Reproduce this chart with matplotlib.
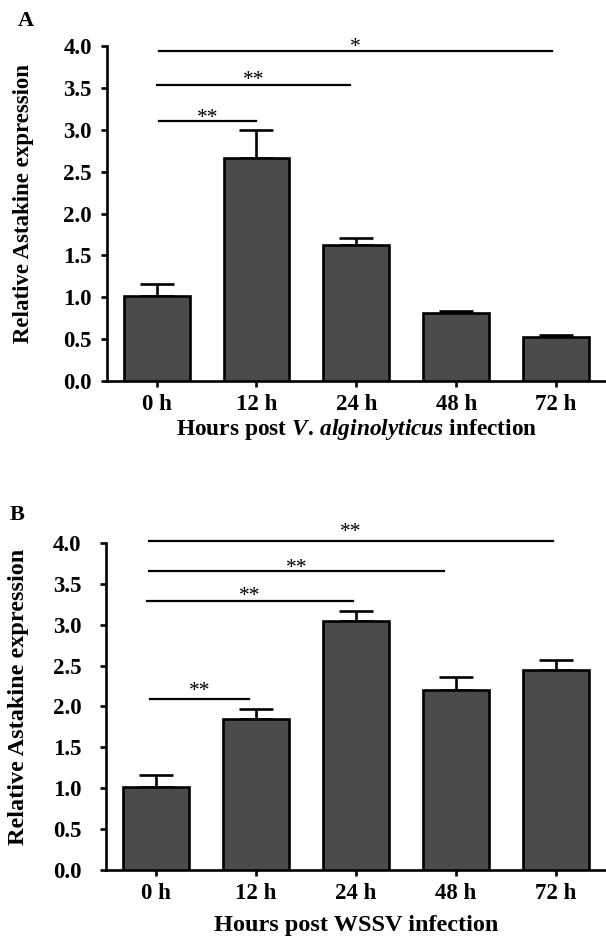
import matplotlib
matplotlib.use("Agg")
import matplotlib.pyplot as plt
import matplotlib.transforms as mtransforms
import numpy as np

plt.rcParams['font.family'] = ['Liberation Serif', 'DejaVu Serif']
plt.rcParams['mathtext.fontset'] = 'custom'
plt.rcParams['mathtext.rm'] = 'Liberation Serif:bold'
plt.rcParams['mathtext.bf'] = 'Liberation Serif:bold'
plt.rcParams['mathtext.it'] = 'Liberation Serif:italic:bold'
plt.rcParams['mathtext.bfit'] = 'Liberation Serif:italic:bold'

categories = ["0 h", "12 h", "24 h", "48 h", "72 h"]
yticks = [0.0, 0.5, 1.0, 1.5, 2.0, 2.5, 3.0, 3.5, 4.0]

A_means = [1.02, 2.66, 1.62, 0.81, 0.52]
A_err = [0.14, 0.34, 0.09, 0.02, 0.03]
A_sig_spans = [(0.02, 1.0), (0.0, 1.94), (0.02, 3.96)]
A_sig_y = [3.10, 3.54, 3.94]
A_sig_star_y = [3.21, 3.66, 4.05]
A_sig_text = ["**", "**", "*"]

B_means = [1.02, 1.85, 3.04, 2.20, 2.44]
B_err = [0.14, 0.12, 0.13, 0.16, 0.13]
B_sig_spans = [(-0.06, 0.93), (-0.09, 1.97), (-0.07, 2.88), (-0.07, 3.97)]
B_sig_y = [2.09, 3.29, 3.66, 4.03]
B_sig_star_y = [2.25, 3.42, 3.76, 4.20]
B_sig_text = ["**", "**", "**", "**"]

fig = plt.figure(figsize=(6.06, 9.41), dpi=100)

def panel(rect, means, err, spans, sig_y, star_y, sig_text, xlabel_parts,
          ytick_pad, ylabel_size, xlabel_size, ylab_x, xlab_y, letter, letter_xy):
    ax = fig.add_axes(rect)
    x = np.arange(len(categories))
    ax.errorbar(x, means, yerr=[np.zeros(len(err)), err], fmt='none',
                ecolor='black', elinewidth=1.9, capsize=12.5, capthick=1.9, zorder=2)
    ax.bar(x, means, width=0.66, color='#4b4b4b', edgecolor='black',
           linewidth=1.9, zorder=3)
    ax.set_xlim(-0.5, 4.5)
    ax.set_ylim(0, 4.0)
    ax.set_yticks(yticks)
    ax.set_yticklabels([f"{v:.1f}" for v in yticks])
    ax.set_xticks(x)
    ax.set_xticklabels(categories)
    for s in ['top', 'right']:
        ax.spines[s].set_visible(False)
    for s in ['left', 'bottom']:
        ax.spines[s].set_linewidth(1.9)
    ax.tick_params(axis='y', length=4.5, width=1.9, pad=ytick_pad, labelsize=16.5)
    ax.tick_params(axis='x', length=4.5, width=1.9, pad=5, labelsize=16.5)
    for lab in ax.get_xticklabels() + ax.get_yticklabels():
        lab.set_fontweight('bold')
    ax.set_ylabel("Relative Astakine expression", fontsize=ylabel_size, fontweight='bold')
    ax.yaxis.set_label_coords(ylab_x, 0.53)
    ax.yaxis.label.set_va('center')
    ax.set_xlabel(xlabel_parts, fontsize=xlabel_size, fontweight='bold')
    ax.xaxis.set_label_coords(0.5, xlab_y)
    ax.xaxis.label.set_va('center')
    star_tr = mtransforms.offset_copy(ax.transData, fig=fig, y=-7.5, units='points')
    for (x0, x1), y, sy, t in zip(spans, sig_y, star_y, sig_text):
        ax.plot([x0, x1], [y, y], color='black', lw=1.6, clip_on=False, zorder=4)
        ax.text((x0 + x1) / 2, sy, t, transform=star_tr, ha='center', va='baseline',
                fontsize=15.5, clip_on=False)
    fig.text(letter_xy[0], letter_xy[1], letter, fontsize=16, fontweight='bold',
             ha='center', va='center')
    return ax

panel([0.176, 0.5951, 0.824, 0.356], A_means, A_err, A_sig_spans, A_sig_y,
      A_sig_star_y, A_sig_text,
      r"Hours post $\mathit{V{.}\,alginolyticus}$ infection",
      6, 16.5, 16.8, -0.166, -0.145, "A", (26 / 606, 1 - 21 / 941))

panel([0.175, 0.0755, 0.825, 0.3475], B_means, B_err, B_sig_spans, B_sig_y,
      B_sig_star_y, B_sig_text,
      "Hours post WSSV infection",
      13, 17.5, 17.5, -0.176, -0.171, "B", (17 / 606, 1 - 515 / 941))

fig.savefig("out.png", dpi=100)
